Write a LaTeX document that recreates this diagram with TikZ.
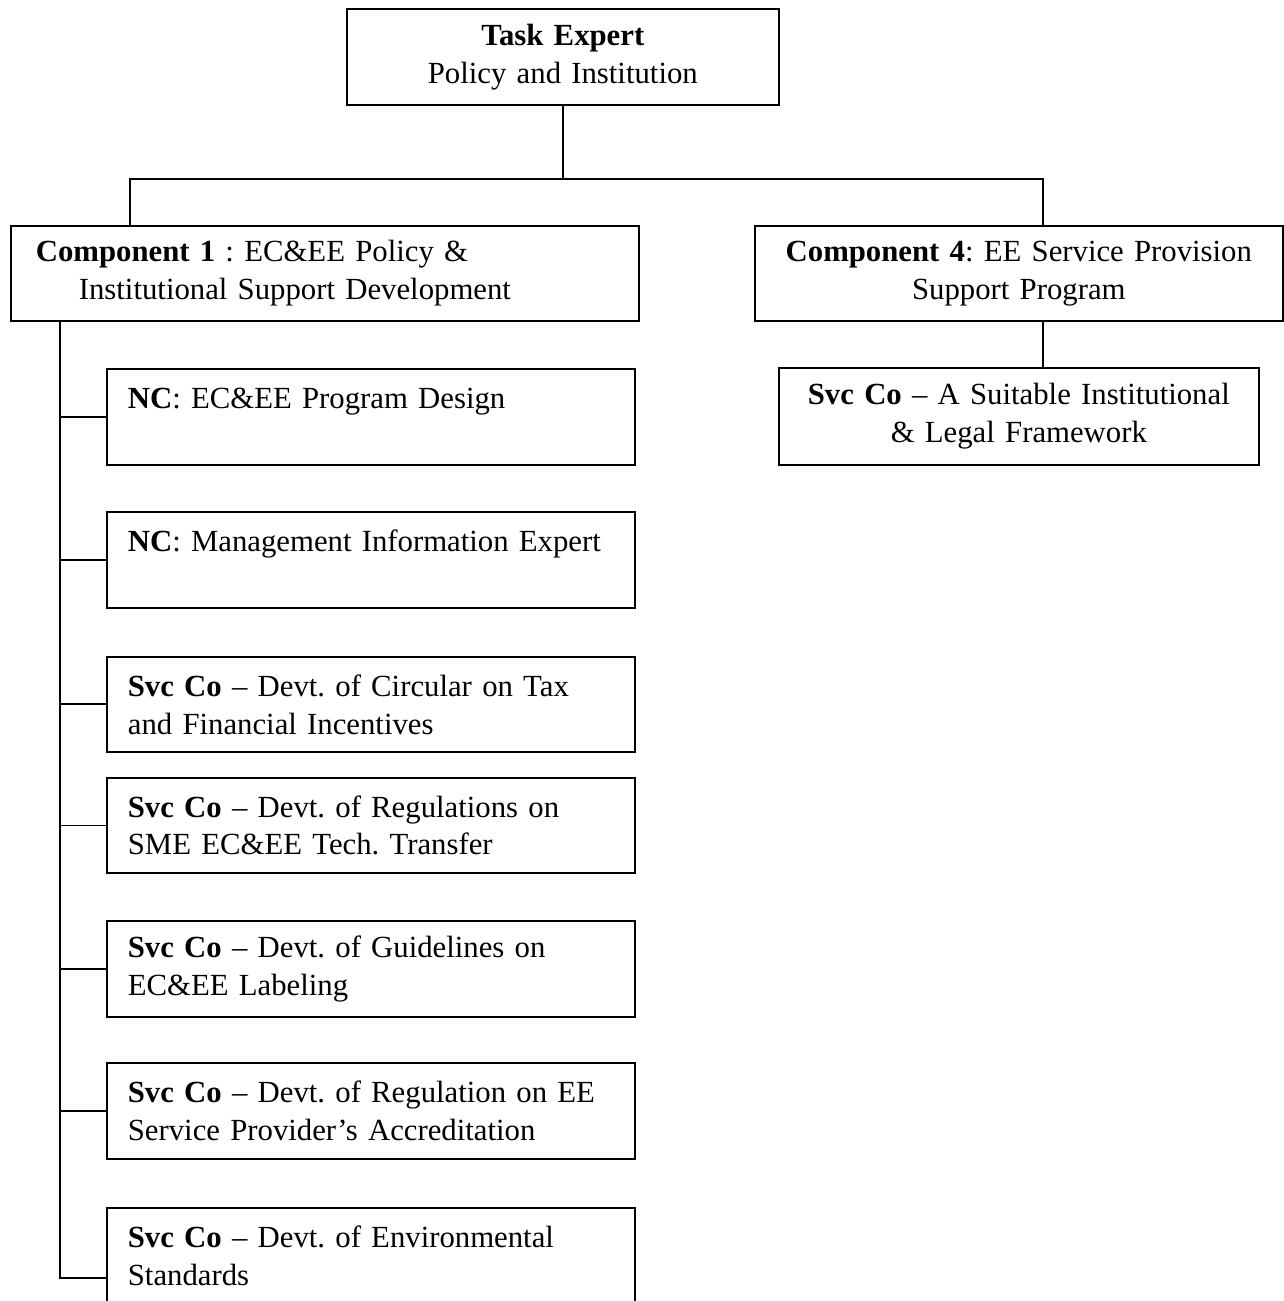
\documentclass[tikz,border=0pt]{standalone}
\usepackage{fontspec}
\setmainfont{Liberation Serif}
\usetikzlibrary{positioning}
\frenchspacing
\hyphenpenalty=10000

\begin{document}
\begin{tikzpicture}[x=0.02cm, y=-0.02cm, line width=1pt,
		font=\fontsize{17.5}{21.6}\selectfont,
		orgbox/.style={draw, rectangle, anchor=north west, inner ysep=0pt, inner xsep=0.42cm, minimum height=1.92cm},
		subbox/.style={orgbox, text width=9.72cm, align=left}]

		\useasboundingbox (0,0) rectangle (1284,1301);

		% top and the two components
		\node[orgbox, inner xsep=0.2cm, text width=8.24cm, align=center] (task) at (346,8) {\textbf{Task Expert}\\Policy and Institution};
		\node[orgbox, inner xsep=0.5cm, text width=11.56cm, minimum height=1.9cm, align=left] (comp1) at (10,225) {\textbf{Component 1} : EC\&EE Policy \&\\\hspace*{0.86cm}Institutional Support Development};
		\node[orgbox, text width=9.72cm, minimum height=1.9cm, align=center] (comp4) at (754,225) {\textbf{Component 4}: EE Service Provision\\Support Program};
		\node[orgbox, text width=8.76cm, minimum height=1.94cm, align=center] (svclegal) at (778,367) {\textbf{Svc Co} -- A Suitable Institutional\\\& Legal Framework};

		% boxes under component 1
		\node[subbox] (nc1) at (106,368) {\textbf{NC}: EC\&EE Program Design\\\mbox{}};
		\node[subbox] (nc2) at (106,511) {\mbox{\textbf{NC}: Management Information Expert}\\\mbox{}};
		\node[subbox, minimum height=1.9cm] (svc1) at (106,656) {\textbf{Svc Co} -- Devt. of Circular on Tax\\and Financial Incentives};
		\node[subbox, minimum height=1.9cm] (svc2) at (106,777) {\textbf{Svc Co} -- Devt. of Regulations on\\SME EC\&EE Tech. Transfer};
		\node[subbox] (svc3) at (106,920) {\textbf{Svc Co} -- Devt. of Guidelines on\\EC\&EE Labeling};
		\node[subbox] (svc4) at (106,1062) {\textbf{Svc Co} -- Devt. of Regulation on EE\\Service Provider's Accreditation};
		\node[subbox] (svc5) at (106,1207) {\textbf{Svc Co} -- Devt. of Environmental\\Standards};

		% connectors
		\coordinate (bar) at (562,179);
		\coordinate (c1up) at (130,225);
		\coordinate (c4up) at (1043,225);
		\coordinate (c4down) at (1043,320);
		\coordinate (spine) at (60,320);

		\draw (task.south) -- (task.south |- bar);
		\draw (c1up) |- (bar) -| (c4up);
		\draw (c4down) -- (c4down |- svclegal.north);
		\foreach \b in {nc1,nc2,svc1,svc2,svc3,svc4}
			\draw (spine) |- (\b.west);
		\draw (spine) |- ([yshift=-0.44cm]svc5.west);
	\end{tikzpicture}
\end{document}
